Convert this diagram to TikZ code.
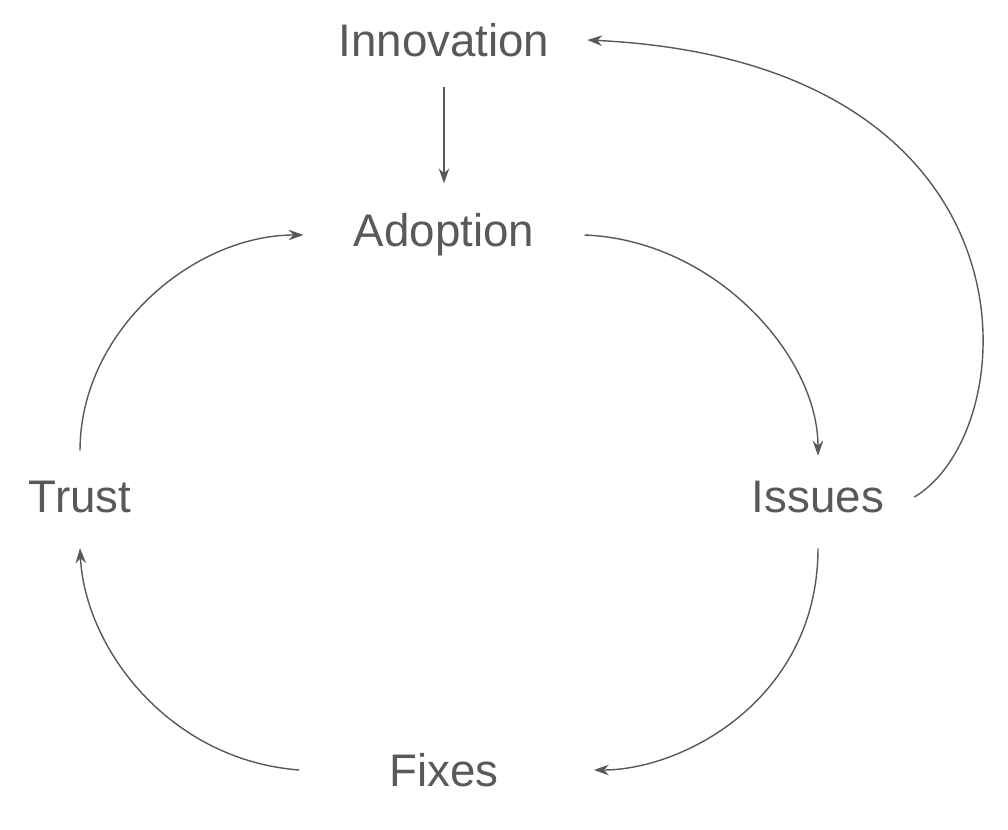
\documentclass[tikz,border=0pt]{standalone}
\usepackage{fontspec}
\setmainfont{Liberation Sans}
\usetikzlibrary{arrows.meta}

\begin{document}
\begin{tikzpicture}[x=0.02cm, y=-0.02cm,
  label/.style={text=ink, font=\fontsize{26}{30}\selectfont, inner sep=0pt},
  link/.style={draw=ink, line width=0.8pt, -{Stealth[length=8.5pt, width=6pt]}}]
\definecolor{ink}{HTML}{595959}
\useasboundingbox (0,0) rectangle (1008,830);
\node[label] (innovation) at (444, 40) {Innovation};
\node[label] (adoption)   at (444,235) {Adoption};
\node[label] (trust)      at ( 80,497) {Trust};
\node[label] (issues)     at (818,497) {Issues};
\node[label] (fixes)      at (444,770) {Fixes};

%%%%%%%%%%%%%%%%%%%%%%%%%%%%%%%%%%%%%%%%

\draw[link] ([yshift=-0.6cm]innovation.south) -- ([yshift=0.6cm]adoption.north);
\draw[link] ([xshift=1.0cm]adoption.east) .. controls +(130,5) and +(0,-100) .. ([yshift=0.5cm]issues.north);
\draw[link] ([yshift=-0.7cm]issues.south) .. controls +(0,150) and +(90,0) .. ([xshift=1.9cm]fixes.east);
\draw[link] ([xshift=-1.8cm]fixes.west) .. controls +(-130,-10) and +(5,100) .. ([yshift=-0.7cm]trust.south);
\draw[link] ([yshift=0.6cm]trust.north) .. controls +(0,-120) and +(-110,0) .. ([xshift=-1.0cm]adoption.west);
\draw[link] ([xshift=0.6cm]issues.east) .. controls +(113,-67) and +(462,22) .. ([xshift=0.75cm]innovation.east);
\end{tikzpicture}
\end{document}
